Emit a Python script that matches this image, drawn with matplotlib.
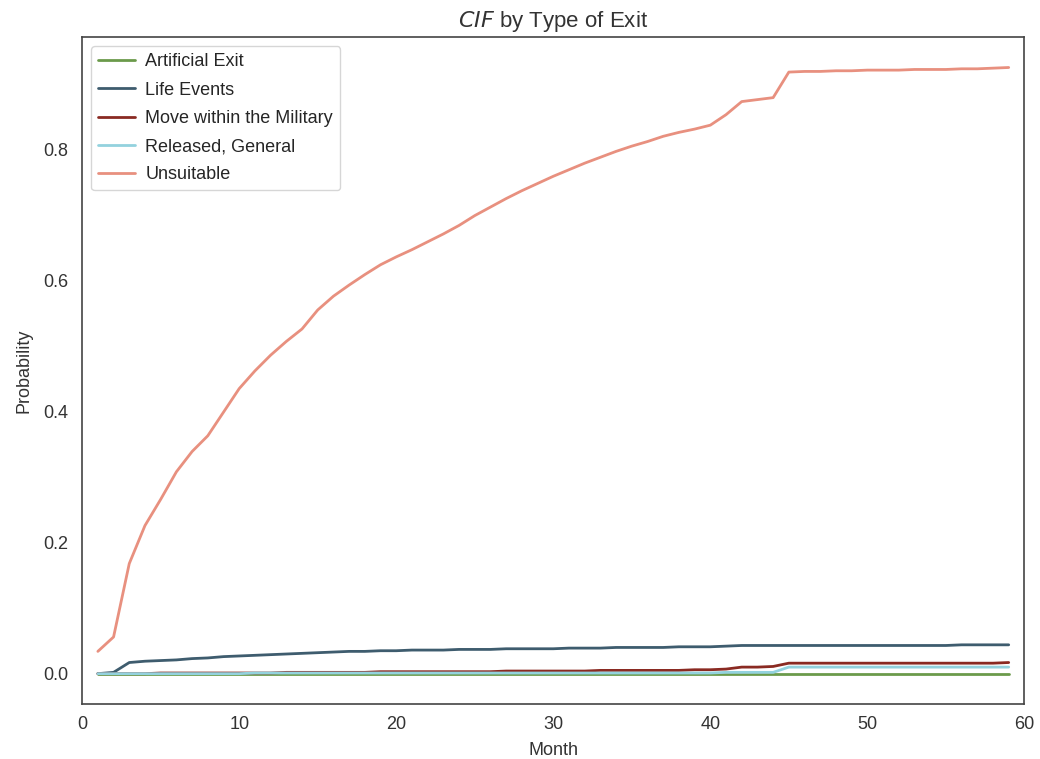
import numpy as np
import matplotlib
matplotlib.use('Agg')
import matplotlib.pyplot as plt
import seaborn as sns

sns.set_style('white')
plt.rcParams['font.family'] = ['Liberation Sans', 'DejaVu Sans']

months = list(range(1, 60))

unsuitable = [0.034, 0.056, 0.168, 0.226, 0.266, 0.308, 0.339, 0.363, 0.399, 0.435,
              0.462, 0.486, 0.507, 0.526, 0.555, 0.576, 0.593, 0.609, 0.624, 0.636,
              0.647, 0.659, 0.671, 0.684, 0.699, 0.712, 0.725, 0.737, 0.748, 0.759,
              0.769, 0.779, 0.788, 0.797, 0.805, 0.812, 0.820, 0.826, 0.831, 0.837,
              0.853, 0.873, 0.876, 0.879, 0.918, 0.919, 0.919, 0.920, 0.920, 0.921,
              0.921, 0.921, 0.922, 0.922, 0.922, 0.923, 0.923, 0.924, 0.925]

life_events = [0.000, 0.002, 0.017, 0.019, 0.020, 0.021, 0.023, 0.024, 0.026, 0.027,
               0.028, 0.029, 0.030, 0.031, 0.032, 0.033, 0.034, 0.034, 0.035, 0.035,
               0.036, 0.036, 0.036, 0.037, 0.037, 0.037, 0.038, 0.038, 0.038, 0.038,
               0.039, 0.039, 0.039, 0.040, 0.040, 0.040, 0.040, 0.041, 0.041, 0.041,
               0.042, 0.043, 0.043, 0.043, 0.043, 0.043, 0.043, 0.043, 0.043, 0.043,
               0.043, 0.043, 0.043, 0.043, 0.043, 0.044, 0.044, 0.044, 0.044]

move_military = [0.000, 0.000, 0.000, 0.000, 0.001, 0.001, 0.001, 0.001, 0.001, 0.001,
                 0.001, 0.001, 0.002, 0.002, 0.002, 0.002, 0.002, 0.002, 0.003, 0.003,
                 0.003, 0.003, 0.003, 0.003, 0.003, 0.003, 0.004, 0.004, 0.004, 0.004,
                 0.004, 0.004, 0.005, 0.005, 0.005, 0.005, 0.005, 0.005, 0.006, 0.006,
                 0.007, 0.010, 0.010, 0.011, 0.016, 0.016, 0.016, 0.016, 0.016, 0.016,
                 0.016, 0.016, 0.016, 0.016, 0.016, 0.016, 0.016, 0.016, 0.017]

released_general = [0.000] * 10 + [0.001] * 30 + [0.002] * 4 + [0.010] * 15

artificial_exit = [0.000] * 59

series = [
    ('Artificial Exit', artificial_exit, '#6b9a4b'),
    ('Life Events', life_events, '#3e5c6e'),
    ('Move within the Military', move_military, '#8a2a22'),
    ('Released, General', released_general, '#93d2de'),
    ('Unsuitable', unsuitable, '#e8907f'),
]

fig = plt.figure(figsize=(10.4, 7.59), dpi=100)
ax = fig.add_axes([0.079, 0.0725, 0.906, 0.8785])

for name, vals, color in series:
    ax.plot(months, vals, color=color, linewidth=2, label=name)

ax.set_xlim(0, 60)
ax.set_xlabel('Month', fontsize=13, color='#333333', labelpad=6)
ax.set_ylabel('Probability', fontsize=13, color='#333333', labelpad=8)
ax.set_title(r'$\it{CIF}$ by Type of Exit', fontsize=16, color='#333333', pad=7)
ax.tick_params(axis='y', labelsize=13, colors='#333333', pad=6.5)
ax.tick_params(axis='x', labelsize=13, colors='#333333', pad=5.5)
for s in ax.spines.values():
    s.set_color('#444444')
    s.set_linewidth(1.2)
ax.legend(loc='upper left', fontsize=13, frameon=True, handlelength=2.0,
          handletextpad=0.6, labelspacing=0.62, borderaxespad=0.5)

fig.savefig('out.png', dpi=100)
